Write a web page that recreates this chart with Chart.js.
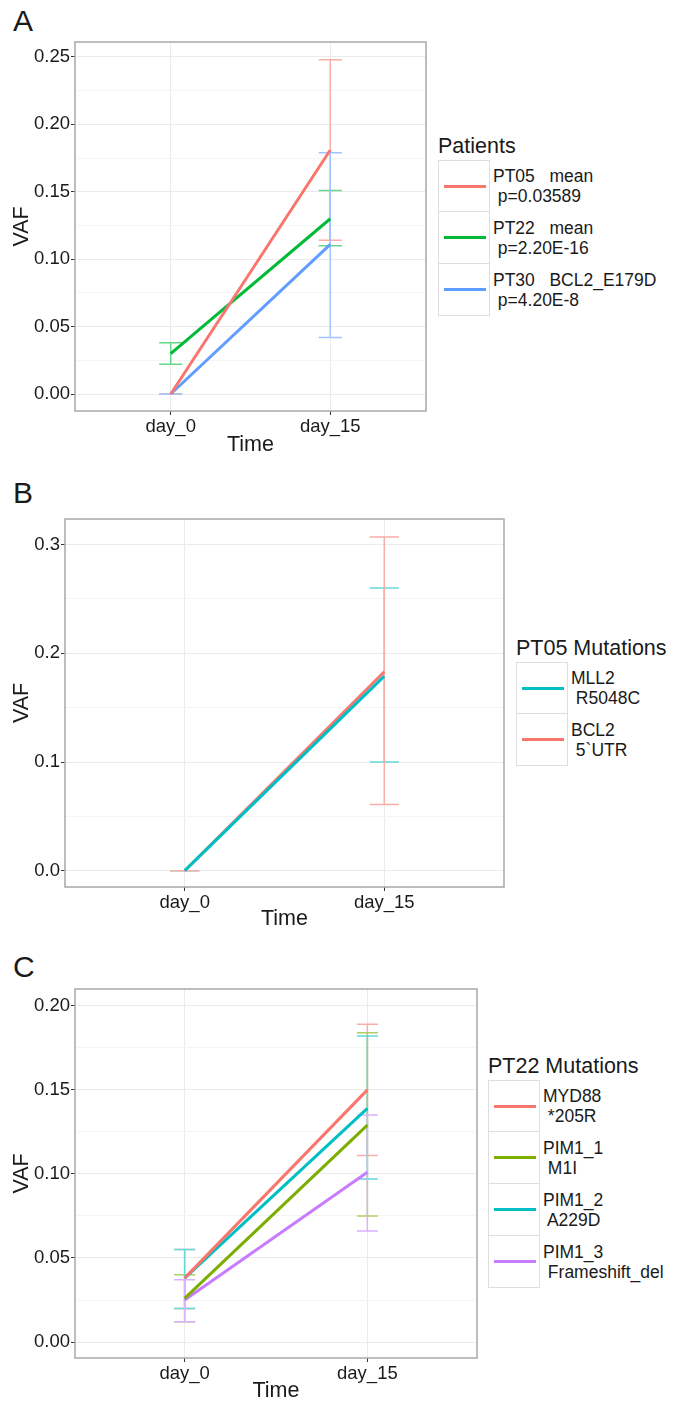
<!DOCTYPE html>
<html>
<head>
<meta charset="utf-8">
<script src="https://cdn.jsdelivr.net/npm/chart.js@4/dist/chart.umd.min.js"></script>
<style>
  html, body { margin: 0; padding: 0; background: #fff; }
  body { width: 673px; height: 1404px; position: relative; overflow: hidden;
         font-family: "Liberation Sans", Arial, sans-serif; color: #1a1a1a; }
  .panel { position: absolute; }
  .letter { position: absolute; font-size: 30px; line-height: 30px; }
  .legend { position: absolute; }
  .legend .title { font-size: 21.5px; line-height: 24px; white-space: nowrap; margin-bottom: 2px; }
  .key { position: relative; height: 52px; }
  .key .box { position: absolute; left: 0; top: 0; width: 52px; height: 52px;
              box-sizing: border-box; border: 1px solid #dedede; border-top-width: 0; }
  .key .swatch { position: absolute; left: 5px; width: 42px; top: 24px; height: 3px; }
  .key .txt { position: absolute; left: 55px; top: 7px; font-size: 17.5px; line-height: 19.5px;
              white-space: pre; }
</style>
</head>
<body>

<div class="letter" style="left:13px;top:6px">A</div>
<div class="letter" style="left:13px;top:478px">B</div>
<div class="letter" style="left:13px;top:952px">C</div>

<div class="panel" style="left:0;top:0"><canvas id="chartA" width="430" height="460"></canvas></div>
<div class="panel" style="left:0;top:470px"><canvas id="chartB" width="508" height="470"></canvas></div>
<div class="panel" style="left:0;top:950px"><canvas id="chartC" width="481" height="454"></canvas></div>

<div class="legend" id="legendA" style="left:438px;top:134px"></div>
<div class="legend" id="legendB" style="left:516px;top:636px"></div>
<div class="legend" id="legendC" style="left:488px;top:1054px"></div>

<script>
// time points (x axis categories)
var timePoints = ["day_0", "day_15"];

// Panel A - patients
var patientsLabels = ["PT05   mean\n p=0.03589", "PT22   mean\n p=2.20E-16", "PT30   BCL2_E179D\n p=4.20E-8"];
var patientsColors = ["#F8766D", "#00BA38", "#619CFF"];
var pt05Mean = [0, 0.181];
var pt05Lo = [0, 0.114];
var pt05Hi = [0, 0.248];
var pt22Mean = [0.030, 0.130];
var pt22Lo = [0.022, 0.110];
var pt22Hi = [0.038, 0.151];
var pt30Vaf = [0, 0.111];
var pt30Lo = [0, 0.042];
var pt30Hi = [0, 0.179];

// Panel B - PT05 mutations
var pt05MutLabels = ["MLL2\n R5048C", "BCL2\n 5`UTR"];
var pt05MutColors = ["#00BFC4", "#F8766D"];
var mll2Vaf = [0, 0.179];
var mll2Lo = [0, 0.100];
var mll2Hi = [0, 0.260];
var bcl2Vaf = [0, 0.183];
var bcl2Lo = [0, 0.061];
var bcl2Hi = [0, 0.307];

// Panel C - PT22 mutations
var pt22MutLabels = ["MYD88\n *205R", "PIM1_1\n M1I", "PIM1_2\n A229D", "PIM1_3\n Frameshift_del"];
var pt22MutColors = ["#F8766D", "#7CAE00", "#00BFC4", "#C77CFF"];
var myd88Vaf = [0.038, 0.150];
var myd88Lo = [0.020, 0.111];
var myd88Hi = [0.055, 0.189];
var pim11Vaf = [0.026, 0.129];
var pim11Lo = [0.012, 0.075];
var pim11Hi = [0.040, 0.184];
var pim12Vaf = [0.038, 0.139];
var pim12Lo = [0.020, 0.097];
var pim12Hi = [0.055, 0.182];
var pim13Vaf = [0.025, 0.101];
var pim13Lo = [0.012, 0.066];
var pim13Hi = [0.037, 0.135];

// lighten a hex colour towards white (error bars are drawn faded)
function lighten(hex, k) {
    var n = parseInt(hex.slice(1), 16);
    var r = n >> 16, g = (n >> 8) & 255, b = n & 255;
    r = Math.round(r + (255 - r) * k);
    g = Math.round(g + (255 - g) * k);
    b = Math.round(b + (255 - b) * k);
    return "rgb(" + r + "," + g + "," + b + ")";
}

function toPoints(vals) {
    return vals.map(function(v, i) { return { x: i + 1, y: v }; });
}

// error bars drawn from the chart's own scales
var errorBarPlugin = {
    id: "errorBars",
    beforeDatasetsDraw: function(chart, args, opts) {
        var ctx = chart.ctx;
        var xs = chart.scales.x, ys = chart.scales.y;
        var half = opts.capWidth / 2;
        ctx.save();
        ctx.lineWidth = 1.5;
        chart.data.datasets.forEach(function(ds) {
            if (!ds.errLo) return;
            ctx.strokeStyle = lighten(ds.borderColor, 0.4);
            ds.errLo.forEach(function(lo, i) {
                var hi = ds.errHi[i];
                var x = xs.getPixelForValue(i + 1);
                var xl = xs.getPixelForValue(i + 1 - half);
                var xr = xs.getPixelForValue(i + 1 + half);
                var yl = ys.getPixelForValue(lo), yh = ys.getPixelForValue(hi);
                ctx.beginPath();
                ctx.moveTo(x, yl); ctx.lineTo(x, yh);
                ctx.moveTo(xl, yl); ctx.lineTo(xr, yl);
                ctx.moveTo(xl, yh); ctx.lineTo(xr, yh);
                ctx.stroke();
            });
        });
        ctx.restore();
    }
};

var borderPlugin = {
    id: "panelBorder",
    afterDraw: function(chart) {
        var a = chart.chartArea, ctx = chart.ctx;
        ctx.save();
        ctx.strokeStyle = "#a8a8a8";
        ctx.lineWidth = 1.5;
        ctx.strokeRect(a.left, a.top, a.right - a.left, a.bottom - a.top);
        ctx.restore();
    }
};

function makeDataset(vals, lo, hi, color, order) {
    return {
        data: toPoints(vals),
        errLo: lo,
        errHi: hi,
        order: order || 0,
        borderColor: color,
        backgroundColor: color,
        borderWidth: 3,
        pointRadius: 0,
        tension: 0,
        fill: false
    };
}

function isMajor(v, every) {
    var r = v / every;
    return Math.abs(r - Math.round(r)) < 1e-6;
}

function buildChart(id, datasets, cfg) {
    var canvas = document.getElementById(id);
    return new Chart(canvas, {
        type: "line",
        data: { datasets: datasets },
        plugins: [errorBarPlugin, borderPlugin],
        options: {
            responsive: false,
            animation: false,
            layout: { padding: { top: cfg.padTop, right: cfg.padRight, left: 0, bottom: 0 } },
            plugins: {
                legend: { display: false },
                tooltip: { enabled: false },
                errorBars: { capWidth: cfg.capWidth }
            },
            scales: {
                x: {
                    type: "linear",
                    min: 0.4,
                    max: 2.6,
                    afterBuildTicks: function(scale) {
                        scale.ticks = timePoints.map(function(t, i) { return { value: i + 1 }; });
                    },
                    afterFit: function(scale) { scale.height = cfg.xAxisHeight; },
                    ticks: {
                        autoSkip: false,
                        maxRotation: 0,
                        padding: 1,
                        color: "#1a1a1a",
                        font: { family: "Liberation Sans", size: 18.5 },
                        callback: function(v) { return timePoints[v - 1]; }
                    },
                    grid: { color: "#ebebeb", tickColor: "#333", tickLength: 4, lineWidth: 1 },
                    border: { display: false },
                    title: {
                        display: true, text: "Time", color: "#1a1a1a",
                        font: { family: "Liberation Sans", size: 21.5 },
                        padding: { top: 0, bottom: cfg.titlePadX }
                    }
                },
                y: {
                    type: "linear",
                    min: cfg.yMin,
                    max: cfg.yMax,
                    afterBuildTicks: function(scale) {
                        var t = [];
                        for (var k = 0; k <= cfg.nMinor; k++) {
                            t.push({ value: Math.round(k * cfg.minor * 10000) / 10000 });
                        }
                        scale.ticks = t;
                    },
                    afterFit: function(scale) { scale.width = cfg.yAxisWidth; },
                    ticks: {
                        autoSkip: false,
                        padding: 1,
                        color: "#1a1a1a",
                        font: { family: "Liberation Sans", size: 18.5 },
                        callback: function(v) {
                            return isMajor(v, cfg.major) ? v.toFixed(cfg.decimals) : "";
                        }
                    },
                    grid: {
                        lineWidth: 1,
                        tickLength: 4,
                        color: function(c) {
                            return c.tick && isMajor(c.tick.value, cfg.major) ? "#ebebeb" : "#f5f5f5";
                        },
                        tickColor: function(c) {
                            return c.tick && isMajor(c.tick.value, cfg.major) ? "#333" : "rgba(0,0,0,0)";
                        }
                    },
                    border: { display: false },
                    title: {
                        display: true, text: "VAF", color: "#1a1a1a",
                        font: { family: "Liberation Sans", size: 21.5 },
                        padding: { top: cfg.titlePadY, bottom: 0 }
                    }
                }
            }
        }
    });
}

function buildLegend(id, title, labels, colors) {
    var el = document.getElementById(id);
    var t = document.createElement("div");
    t.className = "title";
    t.textContent = title;
    el.appendChild(t);
    labels.forEach(function(lab, i) {
        var k = document.createElement("div");
        k.className = "key";
        var b = document.createElement("div");
        b.className = "box";
        if (i === 0) b.style.borderTopWidth = "1px";
        var s = document.createElement("div");
        s.className = "swatch";
        s.style.background = colors[i];
        b.appendChild(s);
        var tx = document.createElement("div");
        tx.className = "txt";
        tx.textContent = lab;
        k.appendChild(b);
        k.appendChild(tx);
        el.appendChild(k);
    });
}

buildChart("chartA", [
    makeDataset(pt05Mean, pt05Lo, pt05Hi, patientsColors[0]),
    makeDataset(pt22Mean, pt22Lo, pt22Hi, patientsColors[1]),
    makeDataset(pt30Vaf, pt30Lo, pt30Hi, patientsColors[2])
], { yMin: -0.0126, yMax: 0.2611, major: 0.05, minor: 0.025, nMinor: 10, decimals: 2,
     padTop: 42, padRight: 4, xAxisHeight: 49, yAxisWidth: 75, capWidth: 0.145,
     titlePadX: 2, titlePadY: 9 });

// MLL2 line on top, BCL2 error bars on top
buildChart("chartB", [
    makeDataset(mll2Vaf, mll2Lo, mll2Hi, pt05MutColors[0], 0),
    makeDataset(bcl2Vaf, bcl2Lo, bcl2Hi, pt05MutColors[1], 1)
], { yMin: -0.015, yMax: 0.3236, major: 0.1, minor: 0.05, nMinor: 6, decimals: 1,
     padTop: 49, padRight: 4, xAxisHeight: 53, yAxisWidth: 65, capWidth: 0.147,
     titlePadX: 8, titlePadY: 9 });

buildChart("chartC", [
    makeDataset(myd88Vaf, myd88Lo, myd88Hi, pt22MutColors[0]),
    makeDataset(pim11Vaf, pim11Lo, pim11Hi, pt22MutColors[1]),
    makeDataset(pim12Vaf, pim12Lo, pim12Hi, pt22MutColors[2]),
    makeDataset(pim13Vaf, pim13Lo, pim13Hi, pt22MutColors[3])
], { yMin: -0.0095, yMax: 0.21, major: 0.05, minor: 0.025, nMinor: 8, decimals: 2,
     padTop: 39, padRight: 4, xAxisHeight: 46, yAxisWidth: 75, capWidth: 0.115,
     titlePadX: 0, titlePadY: 9 });

buildLegend("legendA", "Patients", patientsLabels, patientsColors);
buildLegend("legendB", "PT05 Mutations", pt05MutLabels, pt05MutColors);
buildLegend("legendC", "PT22 Mutations", pt22MutLabels, pt22MutColors);
</script>
</body>
</html>
